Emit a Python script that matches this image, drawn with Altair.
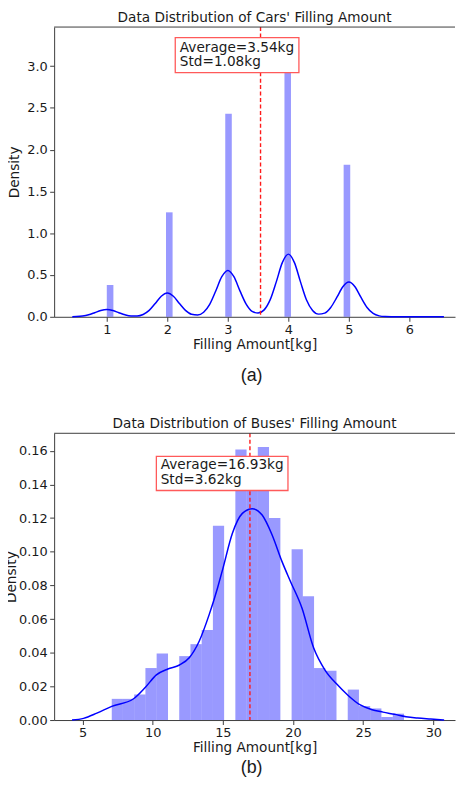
import altair as alt
import pandas as pd

FONT = "DejaVu Sans"
TXT = "#1a1a1a"
SPINE = "#3c3c3c"

# ---------------- Cars ----------------
car_bin_start = [1.000, 1.978, 2.957, 3.935, 4.913]
car_bin_end = [1.109, 2.087, 3.065, 4.043, 5.022]
car_density = [0.38, 1.25, 2.43, 3.30, 1.82]
car_kde_x = [0.43, 0.5, 0.6, 0.7, 0.8, 0.9, 1.0, 1.1, 1.2, 1.3, 1.4, 1.5, 1.6, 1.7, 1.8, 1.9,
             2.0, 2.1, 2.2, 2.3, 2.4, 2.5, 2.6, 2.7, 2.8, 2.9, 3.0, 3.1, 3.2, 3.3, 3.4, 3.5,
             3.6, 3.7, 3.8, 3.9, 4.0, 4.1, 4.2, 4.3, 4.4, 4.5, 4.6, 4.7, 4.8, 4.9, 5.0, 5.1,
             5.2, 5.3, 5.4, 5.5, 5.6, 5.7, 5.8, 6.0, 6.2, 6.4, 6.57]
car_kde_y = [0.001, 0.0023, 0.0085, 0.0236, 0.049, 0.076, 0.088, 0.076, 0.049, 0.024, 0.010,
             0.0097, 0.028, 0.0764, 0.159, 0.246, 0.285, 0.246, 0.159, 0.077, 0.030, 0.022,
             0.055, 0.149, 0.309, 0.480, 0.555, 0.480, 0.310, 0.155, 0.066, 0.045, 0.083,
             0.205, 0.418, 0.648, 0.750, 0.648, 0.418, 0.201, 0.075, 0.032, 0.044, 0.112,
             0.231, 0.359, 0.415, 0.359, 0.231, 0.111, 0.040, 0.011, 0.0025, 0.0006,
             0.0003, 0.0004, 0.0003, 0.0002, 0.0001]
car_mean = 3.54
car_std = 1.08

# ---------------- Buses ----------------
bus_bin_start = [7.08, 7.88, 8.68, 9.48, 10.28, 11.09, 11.89, 12.69, 13.49, 14.29, 15.09,
                 15.89, 16.69, 17.49, 18.29, 19.10, 19.90, 20.70, 21.50, 22.30, 23.10,
                 23.90, 24.70, 25.50, 26.30, 27.11]
bus_bin_end = [7.88, 8.68, 9.48, 10.28, 11.09, 11.89, 12.69, 13.49, 14.29, 15.09, 15.89,
               16.69, 17.49, 18.29, 19.10, 19.90, 20.70, 21.50, 22.30, 23.10, 23.90,
               24.70, 25.50, 26.30, 27.11, 27.91]
bus_density = [0.0126, 0.0126, 0.0152, 0.0309, 0.0396, 0.0, 0.0380, 0.0451, 0.0535, 0.1155,
               0.0, 0.1608, 0.1500, 0.1622, 0.1201, 0.0, 0.1015, 0.0736, 0.0309, 0.0293,
               0.0, 0.0181, 0.0083, 0.0069, 0.0018, 0.0038]
bus_kde_x = [4.25, 5.07, 6.02, 7.08, 8.61, 9.48, 10.26, 11.08, 11.91, 12.62, 13.32, 14.03,
             14.62, 15.0, 15.68, 16.39, 17.09, 17.80, 18.51, 19.21, 19.81, 20.63, 21.46,
             22.28, 23.10, 23.93, 24.76, 25.58, 26.41, 27.23, 28.05, 28.88, 29.82, 30.77]
bus_kde_y = [0.0, 0.001, 0.0041, 0.0081, 0.0125, 0.0195, 0.0268, 0.0303, 0.0327, 0.0372,
             0.047, 0.0628, 0.0785, 0.090, 0.111, 0.1228, 0.1256, 0.1218, 0.110, 0.0943,
             0.0825, 0.0667, 0.0431, 0.0297, 0.0215, 0.0146, 0.0091, 0.0063, 0.0047,
             0.0034, 0.002, 0.0012, 0.0006, 0.0]
bus_mean = 16.93
bus_std = 3.62

W = 404
TFS = 13.75


def panel(title, bstart, bend, bdens, kx, ky, mean, std, xdom, ydom, xticks, yticks,
          yfmt, box, text_x, text_y, caption, cap_x, cap_y, ytitle_pad, xtitle_pad, H):
    xsc = alt.Scale(domain=xdom, nice=False, zero=False)
    ysc = alt.Scale(domain=ydom, nice=False, zero=False)
    xax = alt.Axis(values=xticks, format="d", title="Filling Amount[kg]", labelFlush=False,
                   titlePadding=xtitle_pad)
    yax = alt.Axis(values=yticks, format=yfmt, title="Density", titlePadding=ytitle_pad)

    bars_df = pd.DataFrame({"start": bstart, "end": bend, "density": bdens})
    kde_df = pd.DataFrame({"x": kx, "y": ky})
    one = pd.DataFrame({"k": [0]})
    lines_df = pd.DataFrame({
        "t": [f"Average={mean:.2f}kg", f"Std={std:.2f}kg"],
        "y": text_y,
    })

    bars = alt.Chart(bars_df).mark_rect(color="#0000ff", opacity=0.4).encode(
        x=alt.X("start:Q", scale=xsc, axis=xax),
        x2="end:Q",
        y=alt.Y("density:Q", scale=ysc, axis=yax),
        y2=alt.Y2Datum(0),
    )
    kde = alt.Chart(kde_df).mark_line(color="#0000ff", strokeWidth=1.5,
                                      interpolate="monotone").encode(
        x=alt.X("x:Q", scale=xsc, axis=xax),
        y=alt.Y("y:Q", scale=ysc, axis=yax),
    )
    mean_rule = alt.Chart(one).mark_rule(color="#ff1a1a", strokeWidth=1.4,
                                         strokeDash=[4, 2.5]).encode(
        x=alt.XDatum(mean, type="quantitative", scale=xsc, axis=xax),
    )
    box_rect = alt.Chart(one).mark_rect(fill="white", stroke="#ff5a5a",
                                        strokeWidth=1.3).encode(
        x=alt.XDatum(box[0], type="quantitative", scale=xsc, axis=xax),
        x2=alt.X2Datum(box[1]),
        y=alt.YDatum(box[2], type="quantitative", scale=ysc, axis=yax),
        y2=alt.Y2Datum(box[3]),
    )
    texts = alt.Chart(lines_df).mark_text(align="left", baseline="middle", font=FONT,
                                          fontSize=TFS, color=TXT).encode(
        x=alt.XDatum(text_x, type="quantitative", scale=xsc, axis=xax),
        y=alt.Y("y:Q", scale=ysc, axis=yax),
        text="t:N",
    )
    top_spine = alt.Chart(one).mark_rule(color=SPINE, strokeWidth=1).encode(
        x=alt.value(0), x2=alt.value(W), y=alt.value(0)
    )
    cap = alt.Chart(pd.DataFrame({"t": [caption]})).mark_text(
        font="Liberation Sans", fontSize=18, color=TXT, align="center",
        baseline="alphabetic").encode(
        text="t:N", x=alt.value(cap_x), y=alt.value(cap_y)
    )
    return alt.layer(bars, kde, mean_rule, box_rect, texts, top_spine, cap).properties(
        width=W, height=H,
        title=alt.TitleParams(title, font=FONT, fontSize=TFS, fontWeight="normal",
                              color=TXT, offset=2.0),
    )


top = panel("Data Distribution of Cars' Filling Amount", car_bin_start, car_bin_end,
            car_density, car_kde_x, car_kde_y, car_mean, car_std,
            [0.130, 6.753], [0, 3.467], [1, 2, 3, 4, 5, 6],
            [0, 0.5, 1.0, 1.5, 2.0, 2.5, 3.0], ".1f",
            (2.131, 4.174, 3.340, 2.921), 2.207, [3.221, 3.043],
            "(a)", 199, 357, 5, 1.5, 292)

bottom = panel("Data Distribution of Buses' Filling Amount", bus_bin_start, bus_bin_end,
               bus_density, bus_kde_x, bus_kde_y, bus_mean, bus_std,
               [2.974, 31.546], [0, 0.1704], [5, 10, 15, 20, 25, 30],
               [0, 0.02, 0.04, 0.06, 0.08, 0.10, 0.12, 0.14, 0.16], ".2f",
               (10.26, 19.64, 0.1567, 0.1364), 10.57, [0.1514, 0.1425],
               "(b)", 199, 342, 0, 1, 289)

chart = alt.vconcat(top, bottom, spacing=31.4).properties(
    padding={"left": -3.5, "top": -0.8, "right": 0, "bottom": 0}
).configure_view(stroke=None).configure_axis(
    grid=False, labelFont=FONT, titleFont=FONT, labelFontSize=13, titleFontSize=TFS,
    titleFontWeight="normal", labelColor=TXT, titleColor=TXT, domainColor=SPINE,
    tickColor=SPINE, domainWidth=1, tickWidth=1, tickSize=4.5,
).configure_axisX(labelPadding=2).configure_axisY(labelPadding=2.5)

chart.save("out.html", embed_options={"renderer": "svg", "actions": False})
